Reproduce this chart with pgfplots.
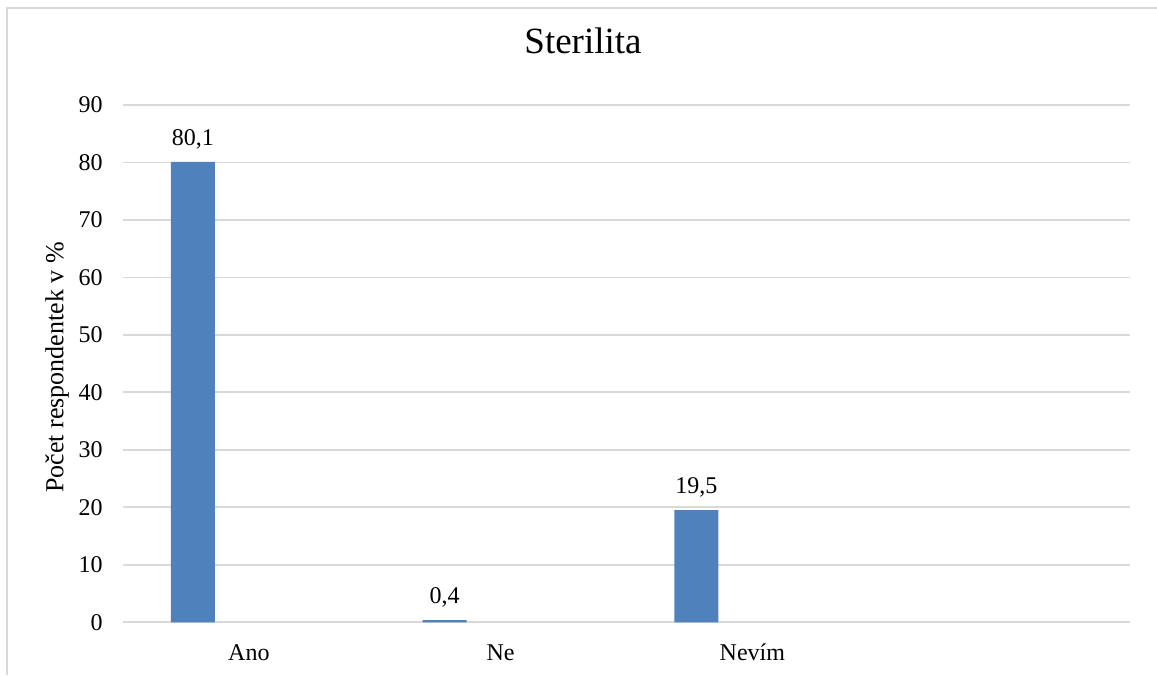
\documentclass[border=0pt]{standalone}
\usepackage{pgfplots}
\pgfplotsset{compat=1.18}
\usepackage{fontspec}
\setmainfont{Liberation Serif}
\definecolor{barblue}{HTML}{4F81BD}
\definecolor{gridgray}{HTML}{D9D9D9}
\begin{document}
\begin{tikzpicture}[x=0.5pt,y=0.5pt]
\useasboundingbox (0,0) rectangle (1157,675);
\fill[white] (0,0) rectangle (1157,675);
\draw[gridgray, line width=1pt] (7,0) -- (7,666.5) -- (1157,666.5);
\begin{axis}[
  at={(61.5pt,26.35pt)}, anchor=south west,
  scale only axis,
  width=503.5pt, height=258.65pt,
  xmin=-0.5, xmax=3.5,
  ymin=0, ymax=90,
  ytick={0,10,...,90},
  xtick={0,1,2},
  xticklabels={Ano,Ne,Nevím},
  axis line style={draw=none},
  tick style={draw=none},
  ymajorgrids,
  grid style={gridgray, line width=0.9pt},
  /pgf/number format/assume math mode=true,
  ticklabel style={font=\fontsize{12}{14}\selectfont},
  yticklabel style={anchor=east, inner sep=0pt, xshift=-10pt},
  xticklabel style={anchor=base, inner sep=0pt, yshift=-18.85pt},
  title={Sterilita},
  title style={at={(axis description cs:0.4568,1.0773)}, anchor=base, font=\fontsize{18.5}{22}\selectfont, inner sep=0pt},
  ylabel={Počet respondentek v \%},
  ylabel style={at={(axis description cs:-0.0655,0.4926)}, anchor=center, font=\fontsize{13}{15}\selectfont},
  clip=false,
]
\addplot[ybar, fill=barblue, draw=none, bar width=0.1748, bar shift=-0.2224,
  nodes near coords={\pgfmathprintnumber[fixed,fixed zerofill,precision=1,use comma,assume math mode=true]{\pgfplotspointmeta}},
  every node near coord/.append style={anchor=base, inner sep=0pt, xshift=-28pt, yshift=8.2pt, font=\fontsize{12}{14}\selectfont, text=black}]
coordinates {(0,80.1) (1,0.4) (2,19.5)};
\end{axis}
\end{tikzpicture}
\end{document}
